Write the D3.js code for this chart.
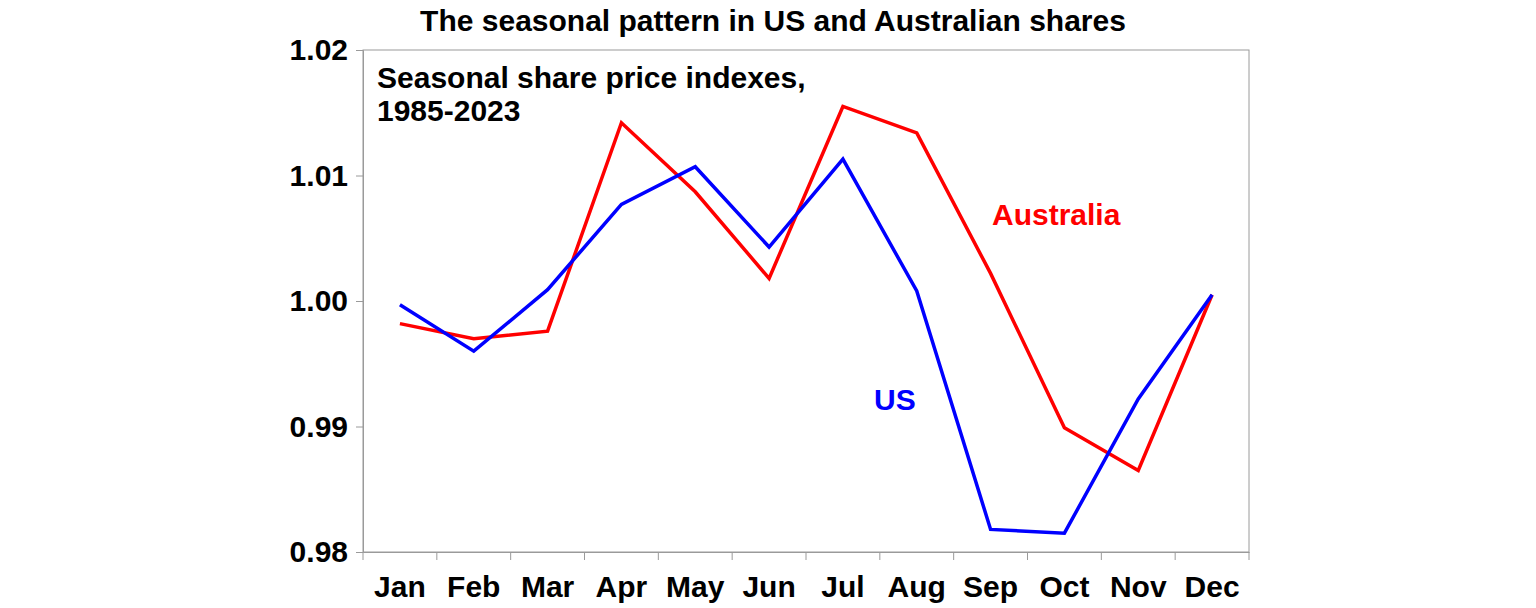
<!DOCTYPE html>
<html><head><meta charset="utf-8">
<script src="https://cdn.jsdelivr.net/npm/d3@7"></script>
<style>body{margin:0;background:#fff}text{font-family:"Liberation Sans",Arial,sans-serif;font-weight:bold}</style>
</head><body><svg id="c" width="1536" height="608"></svg>
<script>
var months = ['Jan','Feb','Mar','Apr','May','Jun','Jul','Aug','Sep','Oct','Nov','Dec'];
var usValues = [0.9997,0.9960,1.0009,1.0077,1.0107,1.0043,1.0113,1.0008,0.9818,0.9815,0.9922,1.0005];
var ausValues = [0.9982,0.9970,0.9976,1.0142,1.0087,1.0018,1.0155,1.0134,1.0022,0.9899,0.9865,1.0005];
var yTicks = [0.98,0.99,1.00,1.01,1.02];

var svg = d3.select('#c');
var plotLeft = 363, plotRight = 1249, plotTop = 50, plotBottom = 552;
var x = d3.scaleBand().domain(months).range([plotLeft, plotRight]);
var y = d3.scaleLinear().domain([0.98, 1.02]).range([plotBottom, plotTop]);

svg.append('rect').attr('x', plotLeft).attr('y', plotTop).attr('width', plotRight - plotLeft).attr('height', plotBottom - plotTop)
    .attr('fill', 'none').attr('stroke', '#9a9a9a').attr('stroke-width', 1);

var yAxis = svg.append('g').attr('transform', 'translate(' + plotLeft + ',0)')
    .call(d3.axisLeft(y).tickValues(yTicks).tickFormat(d3.format('.2f')).tickSize(7).tickPadding(8));
var xAxis = svg.append('g').attr('transform', 'translate(0,' + plotBottom + ')')
    .call(d3.axisBottom(x).tickSize(0).tickPadding(24));
[yAxis, xAxis].forEach(function(a) {
    a.selectAll('path,line').attr('stroke', '#9a9a9a');
    a.selectAll('text').attr('font-size', 30).attr('fill', '#000');
});
// category boundary ticks
svg.append('g').selectAll('line').data(d3.range(13)).enter().append('line')
    .attr('x1', function(i) { return plotLeft + i * x.bandwidth(); })
    .attr('x2', function(i) { return plotLeft + i * x.bandwidth(); })
    .attr('y1', plotBottom).attr('y2', plotBottom + 8).attr('stroke', '#9a9a9a');

var line = d3.line().x(function(d, i) { return x(months[i]) + x.bandwidth() / 2; }).y(function(d) { return y(d); });
svg.append('path').datum(ausValues).attr('d', line).attr('fill', 'none').attr('stroke', '#ff0000').attr('stroke-width', 3.5);
svg.append('path').datum(usValues).attr('d', line).attr('fill', 'none').attr('stroke', '#0000ff').attr('stroke-width', 3.5);

svg.append('text').attr('x', 773).attr('y', 31).attr('text-anchor', 'middle').attr('font-size', 30).text('The seasonal pattern in US and Australian shares');
svg.append('text').attr('x', 377).attr('y', 88).attr('font-size', 30).text('Seasonal share price indexes,');
svg.append('text').attr('x', 377).attr('y', 121).attr('font-size', 30).text('1985-2023');
svg.append('text').attr('x', 992).attr('y', 225).attr('font-size', 30).attr('fill', '#ff0000').text('Australia');
svg.append('text').attr('x', 874).attr('y', 410).attr('font-size', 30).attr('fill', '#0000ff').text('US');
</script></body></html>
